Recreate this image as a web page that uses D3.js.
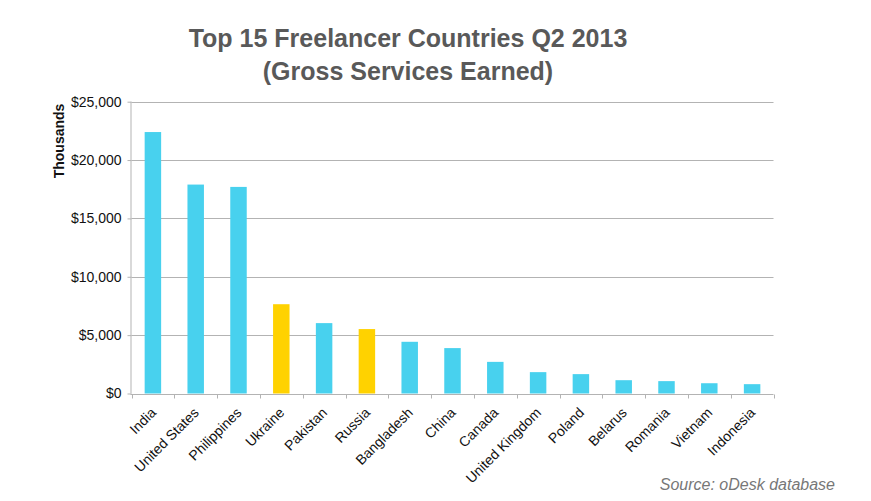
<!DOCTYPE html>
<html><head><meta charset="utf-8">
<script src="https://cdn.jsdelivr.net/npm/d3@7"></script>
<style>body{margin:0;background:#fff}svg{display:block}</style>
</head><body><svg id="c" width="871" height="501"></svg>
<script>
const countries = ["India","United States","Philippines","Ukraine","Pakistan","Russia","Bangladesh","China","Canada","United Kingdom","Poland","Belarus","Romania","Vietnam","Indonesia"];
const values = [22400,17900,17700,7650,6030,5520,4430,3890,2710,1830,1660,1140,1060,880,800];
const highlighted = ["Ukraine","Russia"];
const yTicks = [0,5000,10000,15000,20000,25000];
const titleLines = ["Top 15 Freelancer Countries Q2 2013","(Gross Services Earned)"];

(function(){
const svg = d3.select("#c");
const font = "'Liberation Sans', Arial, Helvetica, sans-serif";
const pl = 131.5, pr = 773.5, pt = 101.7, pb = 393.5;
const x = d3.scaleBand().domain(countries).range([pl, pr]).paddingInner(0.615).paddingOuter(0.3075);
const y = d3.scaleLinear().domain([0,25000]).range([pb, pt]);
const grid = "#b3b3b3";

// gridlines
svg.append("g").selectAll("line").data(yTicks.slice(1)).join("line")
  .attr("x1", pl).attr("x2", pr).attr("y1", d=>Math.round(y(d))+0.5).attr("y2", d=>Math.round(y(d))+0.5)
  .attr("stroke", grid).attr("stroke-width", 1);

// bars
svg.append("g").selectAll("rect").data(countries).join("rect")
  .attr("x", d=>x(d)).attr("width", x.bandwidth())
  .attr("y", (d,i)=>y(values[i])).attr("height", (d,i)=>pb - y(values[i]))
  .attr("fill", d=>highlighted.includes(d) ? "#FFD200" : "#48D1EE");

// y axis
const ya = svg.append("g").attr("transform", `translate(${pl},0)`)
  .call(d3.axisLeft(y).tickValues(yTicks).tickSize(4).tickPadding(6).tickFormat(d=>"$"+d3.format(",")(d)));
ya.select(".domain").attr("stroke", grid).attr("d", `M-0.5,${pt}V${pb}`);
ya.selectAll(".tick line").attr("stroke", grid);
ya.selectAll("text").attr("font-family", font).attr("font-size", 14).attr("fill", "#111");

// x axis
const xa = svg.append("g").attr("transform", `translate(0,${Math.round(pb)+0.5})`);
xa.append("line").attr("x1", pl-1).attr("x2", pr).attr("stroke", grid);
const bounds = countries.map(c => x(c) - x.step()*x.paddingInner()/2);
bounds.push(pr);
xa.selectAll(".tk").data(bounds).join("line").attr("class","tk")
  .attr("x1", d=>Math.round(d)+0.5).attr("x2", d=>Math.round(d)+0.5).attr("y1",0).attr("y2",4).attr("stroke", grid);
svg.append("g").selectAll("text").data(countries).join("text")
  .attr("transform", d=>`translate(${x(d)+x.bandwidth()/2+4},${pb+20}) rotate(-45)`)
  .attr("text-anchor","end").attr("font-family", font).attr("font-size", 14).attr("fill","#111")
  .text(d=>d);

// y title
svg.append("text").attr("transform","translate(64,141) rotate(-90)").attr("text-anchor","middle")
  .attr("font-family", font).attr("font-size", 14).attr("font-weight","bold").attr("fill","#111").text("Thousands");

// title
svg.append("g").selectAll("text").data(titleLines).join("text")
  .attr("x", 408).attr("y", (d,i)=>47+i*33).attr("text-anchor","middle")
  .attr("font-family", font).attr("font-size", 25).attr("font-weight","bold").attr("fill","#595959").text(d=>d);

// source
svg.append("text").attr("x", 835).attr("y", 490).attr("text-anchor","end")
  .attr("font-family", font).attr("font-size", 16).attr("font-style","italic").attr("fill","#777").text("Source: oDesk database");
})();
</script></body></html>
